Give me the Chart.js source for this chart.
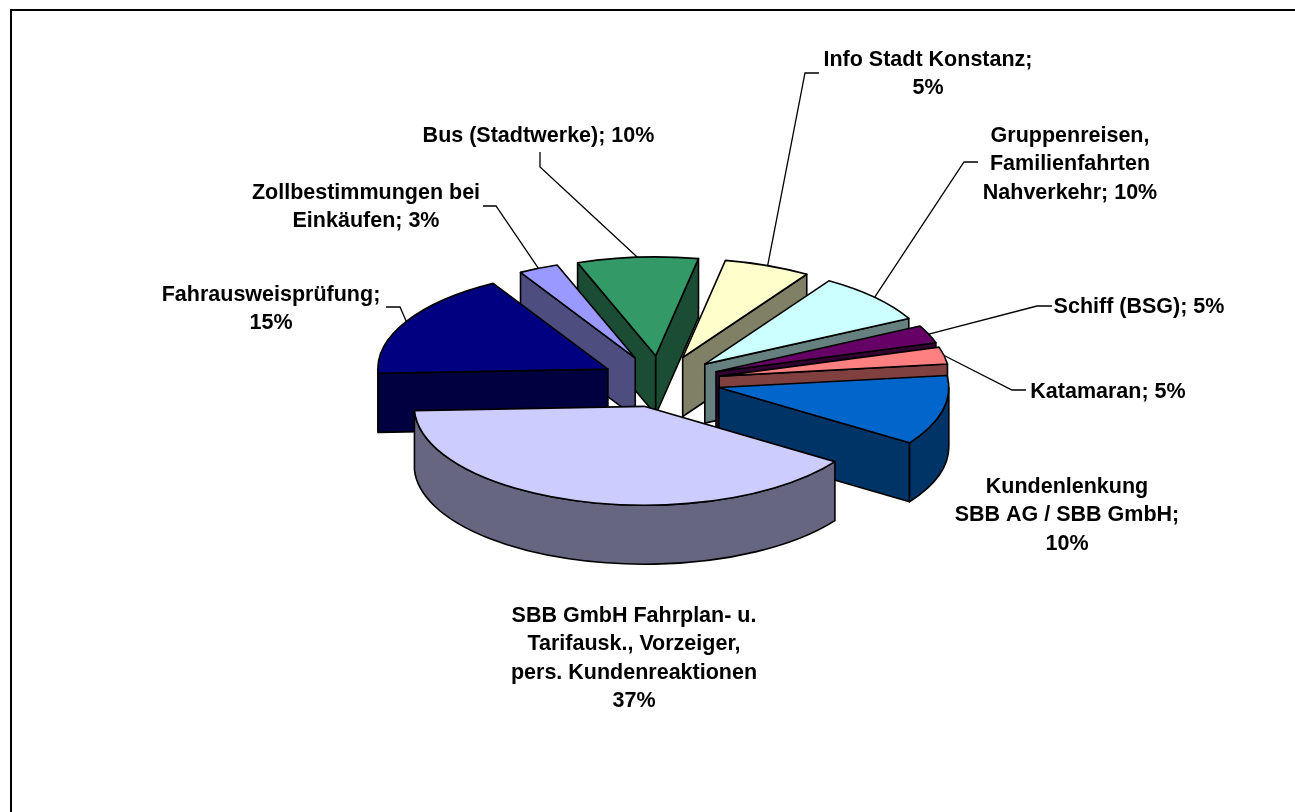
<!DOCTYPE html>
<html>
<head>
<meta charset="utf-8">
<title>Kundenreaktionen</title>
<script src="https://cdn.jsdelivr.net/npm/chart.js@4/dist/chart.umd.min.js"></script>
<style>
  html, body { margin: 0; padding: 0; background: #fff; overflow: hidden; }
  canvas { position: absolute; left: 0; top: 0; }
</style>
</head>
<body>
<canvas id="chart" width="1295" height="812"></canvas>
<script>
// label text, as printed on the picture
const labelLines = [
  ["SBB GmbH Fahrplan- u.", "Tarifausk., Vorzeiger,", "pers. Kundenreaktionen", "37%"],
  ["Fahrausweisprüfung;", "15%"],
  ["Zollbestimmungen bei", "Einkäufen; 3%"],
  ["Bus (Stadtwerke); 10%"],
  ["Info Stadt Konstanz;", "5%"],
  ["Gruppenreisen,", "Familienfahrten", "Nahverkehr; 10%"],
  ["Schiff (BSG); 5%"],
  ["Katamaran; 5%"],
  ["Kundenlenkung", "SBB AG / SBB GmbH;", "10%"],
];

// slice shares read off the drawn angles: the printed percentages do not match the slices
const sliceShares = [39.9, 17.4, 2.8, 8.5, 6.1, 8.3, 2.9, 2.8, 11.4];

const topColors = ["#CCCCFF", "#000080", "#9999FF", "#339966", "#FFFFCC", "#CCFFFF", "#660066", "#FF8080", "#0066CC"];
const wallColors = ["#666680", "#000040", "#4D4D80", "#1A4D33", "#808066", "#668080", "#330033", "#804040", "#003366"];

// centre x and first baseline of each label
const labelAnchors = [[634, 622], [271, 301], [366, 199], [538.5, 142], [928, 66], [1070, 142], [1139, 313], [1108, 398], [1067, 493]];
// leader path from the label to the rim, null when the slice has none
const leaderPaths = [
  null,
  [[386, 307], [400, 307]],
  [[483, 206], [496, 206]],
  [[540, 152], [540, 167]],
  [[819, 73], [805, 73]],
  [[978, 162], [964, 162]],
  [[1052, 306], [1037, 306]],
  [[1026, 390], [1012, 390]],
  null,
];

const squash = 0.43;
const depth = 59;
const pieCenterY = 381.5;
const explode = 60;
const lineHeight = 28.3;

function sliceGeometry(arc) {
  const { x, startAngle, endAngle, outerRadius } = arc.getProps(["x", "startAngle", "endAngle", "outerRadius"], true);
  const mid = (startAngle + endAngle) / 2;
  return {
    x: x + Math.cos(mid) * explode,
    y: pieCenterY + Math.sin(mid) * explode * squash,
    r: outerRadius,
    start: startAngle,
    end: endAngle,
    mid,
  };
}

function rimPoint(s, angle, dy = 0) {
  return [s.x + Math.cos(angle) * s.r, s.y + Math.sin(angle) * s.r * squash + dy];
}

function paint(ctx, fill) {
  ctx.closePath();
  ctx.fillStyle = fill;
  ctx.fill();
  ctx.stroke();
}

function radialWall(ctx, s, angle, fill) {
  const [rx, ry] = rimPoint(s, angle);
  ctx.beginPath();
  ctx.moveTo(s.x, s.y);
  ctx.lineTo(rx, ry);
  ctx.lineTo(rx, ry + depth);
  ctx.lineTo(s.x, s.y + depth);
  paint(ctx, fill);
}

function outerWall(ctx, s, fill) {
  // the rim only shows where it faces the viewer, i.e. angle in [0, PI] modulo a full turn
  for (let k = -1; k <= 2; k++) {
    const from = Math.max(s.start, k * 2 * Math.PI);
    const to = Math.min(s.end, k * 2 * Math.PI + Math.PI);
    if (to <= from) continue;
    ctx.beginPath();
    ctx.ellipse(s.x, s.y, s.r, s.r * squash, 0, from, to);
    ctx.ellipse(s.x, s.y + depth, s.r, s.r * squash, 0, to, from, true);
    paint(ctx, fill);
  }
}

const pie3d = {
  id: "pie3d",
  beforeDatasetDraw(chart, args) {
    const ctx = chart.ctx;
    const arcs = args.meta.data;
    const order = arcs.map((_, i) => i).sort((a, b) =>
      Math.sin(sliceGeometry(arcs[a]).mid) - Math.sin(sliceGeometry(arcs[b]).mid));

    ctx.save();
    ctx.lineWidth = 1.6;
    ctx.strokeStyle = "#000";
    ctx.lineJoin = "round";
    for (const i of order) {
      const s = sliceGeometry(arcs[i]);
      if (Math.cos(s.start) < 0) radialWall(ctx, s, s.start, wallColors[i]);
      if (Math.cos(s.end) > 0) radialWall(ctx, s, s.end, wallColors[i]);
      outerWall(ctx, s, wallColors[i]);

      // the top face is the library's own arc, flattened and pulled out
      ctx.save();
      ctx.translate(Math.cos(s.mid) * explode, s.y);
      ctx.scale(1, squash);
      ctx.translate(0, -arcs[i].y);
      arcs[i].draw(ctx);
      ctx.restore();

      ctx.beginPath();
      ctx.moveTo(s.x, s.y);
      ctx.ellipse(s.x, s.y, s.r, s.r * squash, 0, s.start, s.end);
      ctx.closePath();
      ctx.stroke();
    }
    ctx.restore();
    return false;
  },
  afterDraw(chart) {
    const ctx = chart.ctx;
    const arcs = chart.getDatasetMeta(0).data;
    ctx.save();

    // plot frame, cut off by the right and bottom of the picture
    ctx.strokeStyle = "#000";
    ctx.lineWidth = 2;
    ctx.beginPath();
    ctx.moveTo(11, 812);
    ctx.lineTo(11, 10);
    ctx.lineTo(1295, 10);
    ctx.stroke();

    ctx.lineWidth = 1.3;
    leaderPaths.forEach((path, i) => {
      if (!path) return;
      const s = sliceGeometry(arcs[i]);
      const [rx, ry] = rimPoint(s, s.mid);
      ctx.beginPath();
      ctx.moveTo(path[0][0], path[0][1]);
      ctx.lineTo(path[1][0], path[1][1]);
      ctx.lineTo(rx, ry);
      ctx.stroke();
    });

    ctx.fillStyle = "#000";
    ctx.font = "bold 21.5px 'Liberation Sans', Arial, sans-serif";
    ctx.textAlign = "center";
    ctx.textBaseline = "alphabetic";
    labelLines.forEach((lines, i) => {
      lines.forEach((line, n) => {
        ctx.fillText(line, labelAnchors[i][0], labelAnchors[i][1] + n * lineHeight);
      });
    });
    ctx.restore();
  },
};

new Chart(document.getElementById("chart"), {
  type: "pie",
  data: {
    labels: labelLines.map((lines) => lines.join(" ")),
    datasets: [
      {
        data: sliceShares,
        backgroundColor: topColors,
        borderWidth: 0,
        radius: 230,
      },
    ],
  },
  options: {
    responsive: false,
    animation: false,
    events: [],
    rotation: 124,
    layout: { padding: { left: 26 } },
    plugins: {
      legend: { display: false },
      tooltip: { enabled: false },
    },
  },
  plugins: [pie3d],
});
</script>
</body>
</html>
